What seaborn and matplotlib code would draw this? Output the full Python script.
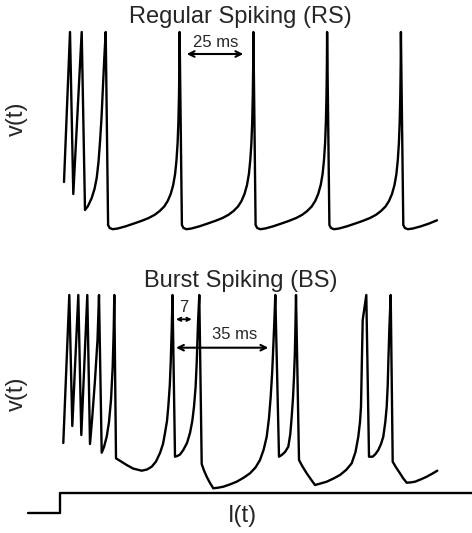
import matplotlib
matplotlib.use("Agg")
import matplotlib.pyplot as plt
import pandas as pd
import seaborn as sns

sns.set_theme(style="white")
plt.rcParams["font.family"] = ["Liberation Sans", "DejaVu Sans"]

# Traces (x = time, y = membrane potential; picture units, y grows downwards)
rs_x = [64, 70, 73.3, 81.7, 85, 88, 91.7, 94.5, 96.7, 98.5, 100, 101.5, 102.7, 104.3, 105.7,
        108.1, 109.7, 112.7, 117.7, 125.7, 133.7, 141.7, 148.7, 154.7, 159.7, 164.2,
        167.7, 170.7, 173.2, 175.1, 176.5, 177.6, 178.4, 179, 179.4, 179.6,
        181.9, 183.5, 186.5, 191.5, 199.5, 207.5, 215.5, 222.5, 228.5, 233.5, 238,
        241.5, 244.5, 247, 248.9, 250.3, 251.4, 252.2, 252.8, 253.2, 253.4,
        255.6, 257.2, 260.2, 265.2, 273.2, 281.2, 289.2, 296.2, 302.2, 307.2, 311.7,
        315.2, 318.2, 320.7, 322.6, 324, 325.1, 325.9, 326.5, 326.9, 327.1,
        329.4, 331, 334, 339, 347, 355, 363, 370, 376, 381, 385.5,
        389, 392, 394.5, 396.4, 397.8, 398.9, 399.7, 400.3, 400.7, 400.9,
        403.3, 404.9, 407.9, 412.9, 420.9, 428.9, 437]
rs_y = [182, 32, 194, 32, 210, 206, 198, 189, 178, 162, 142, 118, 92, 58, 32,
        225, 228, 229.2, 228.5, 226.3, 223.6, 220.8, 218, 214.8, 211, 206.5,
        201, 194, 185, 174, 160, 143, 122, 95, 65, 32,
        225, 228, 229.2, 228.5, 226.3, 223.6, 220.8, 218, 214.8, 211, 206.5,
        201, 194, 185, 174, 160, 143, 122, 95, 65, 32,
        225, 228, 229.2, 228.5, 226.3, 223.6, 220.8, 218, 214.8, 211, 206.5,
        201, 194, 185, 174, 160, 143, 122, 95, 65, 32,
        225, 228, 229.2, 228.5, 226.3, 223.6, 220.8, 218, 214.8, 211, 206.5,
        201, 194, 185, 174, 160, 143, 122, 95, 65, 32,
        225, 228, 229.2, 228.5, 226.3, 223.6, 220.3]

bs_x = [63.3, 69.3, 72.3, 78.3, 81.3, 87.3, 90, 92.5, 95, 97.5, 99,
        101.7, 104, 106.7, 109, 111, 112.7, 113.7, 114.3,
        116, 126.7, 133, 141.7, 147, 151.7, 156, 160, 163, 165, 167, 168.3,
        169.8, 170.7, 171.7, 172.5,
        175, 177.3, 180, 183.3, 187, 190, 192.3, 194, 195.6, 196.7, 198, 199.3,
        201.7, 204, 206.7, 210, 213.3, 218, 223.3, 230, 236.7, 243.5, 250, 255.5,
        260, 263.7, 266.7, 269, 270.7, 272.2, 273.3, 274.4, 275.3,
        279, 281.7, 285, 288.3, 290.3, 291.7, 293, 294, 294.8, 295.3, 296,
        299, 302.5, 306.7, 311, 315, 320.5, 326.7, 333.5, 340, 346.3, 351.7,
        355.5, 358.3, 360, 361, 361.8, 362.7, 366.3,
        369, 372.7, 375.5, 378.3, 381, 383.3, 385.3, 386.7, 387.7, 388.3, 389.3, 390.7,
        392.7, 396.3, 400, 403.3, 406.7, 410.8, 415, 421, 426.7, 432, 437.3]
bs_y = [443, 295, 426, 295, 435, 295, 444, 414, 380, 340, 295,
        452.7, 447, 436.7, 422, 400, 366.7, 330, 295,
        458.3, 465, 468.5, 470.7, 469.5, 466.7, 461.5, 453, 444, 433, 421, 406.7,
        385, 363, 330, 295,
        456.7, 456, 454.5, 450, 443, 433, 421, 406.7, 387, 363, 323, 295,
        464, 470.5, 476.7, 483, 488.3, 487.7, 486.7, 484.4, 481.7, 477.8, 473.3, 467.5,
        460, 449.5, 436.7, 418, 396.7, 372, 346.7, 320, 295,
        456.7, 455, 452, 446.7, 434, 416.7, 398, 376.7, 355, 333.3, 295,
        460, 466.5, 473.3, 479.5, 485, 483.5, 481.7, 478.5, 475, 469.8, 463.3,
        452, 436.7, 422, 406.7, 365, 320, 295,
        456.7, 456.7, 454, 450, 444, 436.7, 422, 406.7, 386, 363.3, 330, 295,
        461.7, 467.8, 473.3, 478.5, 482.7, 482.4, 481.7, 479.3, 476.7, 473.8, 470.7]

# Stimulus current step
step_x = [28, 60, 60, 472]
step_y = [513, 513, 493, 493]

W, H = 472, 533
fig = plt.figure(figsize=(W / 100, H / 100), dpi=100)
ax = fig.add_axes([0, 0, 1, 1])

for xs, ys in [(rs_x, rs_y), (bs_x, bs_y), (step_x, step_y)]:
    df = pd.DataFrame({"x": xs, "y": ys})
    sns.lineplot(data=df, x="x", y="y", sort=False, estimator=None,
                 color="black", linewidth=1.7, ax=ax)

ax.set_xlim(0, W)
ax.set_ylim(H, 0)
ax.axis("off")

# Titles and axis labels
ax.text(240.5, 22.7, "Regular Spiking (RS)", ha="center", va="baseline", fontsize=17)
ax.text(240.8, 286.7, "Burst Spiking (BS)", ha="center", va="baseline", fontsize=17)
ax.text(17, 118.3, "v(t)", ha="center", va="center", rotation=90, fontsize=17)
ax.text(17, 393.3, "v(t)", ha="center", va="center", rotation=90, fontsize=17)
ax.text(242.5, 516, "I(t)", ha="center", va="center", fontsize=17)

# Interval annotations
arrow = dict(arrowstyle="<->", color="black", lw=1.5, shrinkA=0, shrinkB=0,
             mutation_scale=10)
small_arrow = dict(arrow, mutation_scale=6, lw=1.3)
ax.annotate("", xy=(243.3, 54), xytext=(186.7, 54), arrowprops=arrow)
ax.text(216, 46.7, "25 ms", ha="center", va="baseline", fontsize=12)
ax.annotate("", xy=(191.7, 319.3), xytext=(176, 319.3), arrowprops=small_arrow)
ax.text(183.3, 311.7, "7", ha="center", va="baseline", fontsize=12)
ax.annotate("", xy=(268.3, 347.7), xytext=(176, 347.7), arrowprops=arrow)
ax.text(234.5, 339.3, "35 ms", ha="center", va="baseline", fontsize=12)

fig.savefig("out.png", dpi=100, facecolor="white")
